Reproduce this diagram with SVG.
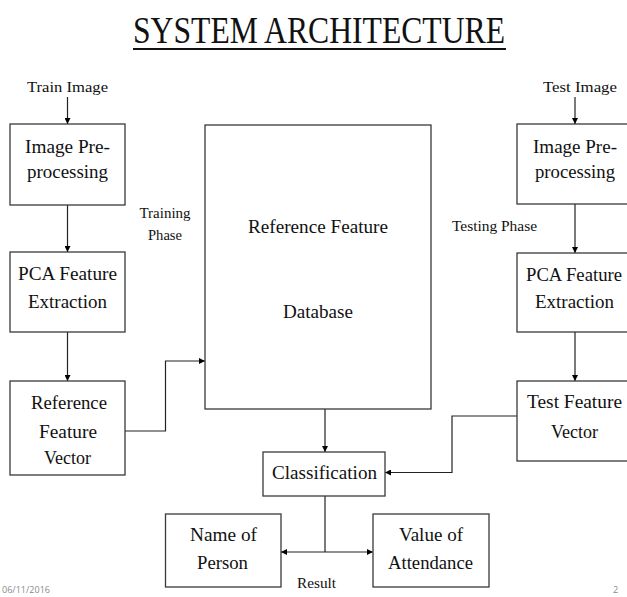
<svg xmlns="http://www.w3.org/2000/svg" width="627" height="597" viewBox="0 0 627 597">
  <defs>
    <marker id="arrow" viewBox="0 0 8 8" refX="8" refY="4" markerWidth="6" markerHeight="6" orient="auto" markerUnits="userSpaceOnUse">
      <path d="M0,0 L8,4 L0,8 z" fill="#000"/>
    </marker>
    <style>
      .box { fill: #fff; stroke: #3a3a3a; stroke-width: 1.3; }
      .t { font-family: "Liberation Serif", "Times New Roman", serif; font-size: 19px; fill: #111; text-anchor: middle; }
      .s { font-family: "Liberation Serif", "Times New Roman", serif; font-size: 15px; fill: #111; text-anchor: middle; }
      .lbl { font-family: "Liberation Serif", "Times New Roman", serif; font-size: 14px; fill: #111; text-anchor: middle; }
      .conn { fill: none; stroke: #222; stroke-width: 1.2; }
      .foot { font-family: "Open Sans", "DejaVu Sans", sans-serif; font-size: 9px; fill: #8a8a8a; }
    </style>
  </defs>

  <rect width="627" height="597" fill="#fff"/>

  <!-- Title -->
  <g id="title">
    <text x="319" y="43" font-family="Liberation Serif, Times New Roman, serif" font-size="37" fill="#111" text-anchor="middle" textLength="372" lengthAdjust="spacingAndGlyphs">SYSTEM  ARCHITECTURE</text>
    <line x1="133" y1="49" x2="506" y2="49" stroke="#111" stroke-width="2"/>
  </g>

  <!-- Connectors -->
  <g id="connectors">
    <line class="conn" x1="67.5" y1="97" x2="67.5" y2="124" marker-end="url(#arrow)"/>
    <line class="conn" x1="67.5" y1="205" x2="67.5" y2="252" marker-end="url(#arrow)"/>
    <line class="conn" x1="67.5" y1="332" x2="67.5" y2="381" marker-end="url(#arrow)"/>
    <polyline class="conn" points="125,431 165.5,431 165.5,361 205,361" marker-end="url(#arrow)"/>

    <line class="conn" x1="575" y1="97" x2="575" y2="124" marker-end="url(#arrow)"/>
    <line class="conn" x1="575" y1="204" x2="575" y2="253" marker-end="url(#arrow)"/>
    <line class="conn" x1="575" y1="332" x2="575" y2="381" marker-end="url(#arrow)"/>
    <polyline class="conn" points="517,416 452,416 452,472.5 385,472.5" marker-end="url(#arrow)"/>

    <line class="conn" x1="325" y1="409" x2="325" y2="452" marker-end="url(#arrow)"/>
    <line class="conn" x1="325" y1="496" x2="325" y2="552"/>
    <line class="conn" x1="325" y1="552" x2="281" y2="552" marker-end="url(#arrow)"/>
    <line class="conn" x1="325" y1="552" x2="373" y2="552" marker-end="url(#arrow)"/>
  </g>

  <!-- Training side -->
  <text class="s" x="67.5" y="92" textLength="81" lengthAdjust="spacingAndGlyphs">Train Image</text>

  <g id="train-preprocessing">
    <rect class="box" x="10" y="124" width="115" height="81"/>
    <text class="t" x="67.5" y="153" textLength="85" lengthAdjust="spacingAndGlyphs">Image Pre-</text>
    <text class="t" x="67.5" y="178" textLength="81" lengthAdjust="spacingAndGlyphs">processing</text>
  </g>

  <g id="train-pca">
    <rect class="box" x="10" y="252" width="115" height="80"/>
    <text class="t" x="67.5" y="280" textLength="99" lengthAdjust="spacingAndGlyphs">PCA Feature</text>
    <text class="t" x="67.5" y="308" textLength="79" lengthAdjust="spacingAndGlyphs">Extraction</text>
  </g>

  <g id="reference-vector">
    <rect class="box" x="10" y="381" width="115" height="94"/>
    <text class="t" x="69" y="409" textLength="76" lengthAdjust="spacingAndGlyphs">Reference</text>
    <text class="t" x="68" y="438" textLength="58" lengthAdjust="spacingAndGlyphs">Feature</text>
    <text class="t" x="67.5" y="464" textLength="47" lengthAdjust="spacingAndGlyphs">Vector</text>
  </g>

  <g id="training-phase">
    <text class="lbl" x="165" y="218" textLength="51" lengthAdjust="spacingAndGlyphs">Training</text>
    <text class="lbl" x="165" y="240" textLength="34" lengthAdjust="spacingAndGlyphs">Phase</text>
  </g>

  <!-- Database -->
  <g id="database">
    <rect class="box" x="205" y="125" width="226" height="284"/>
    <text class="t" x="318" y="233" textLength="140" lengthAdjust="spacingAndGlyphs">Reference Feature</text>
    <text class="t" x="318" y="318" textLength="70" lengthAdjust="spacingAndGlyphs">Database</text>
  </g>

  <!-- Testing side -->
  <text class="s" x="580" y="92" textLength="74" lengthAdjust="spacingAndGlyphs">Test Image</text>

  <g id="testing-phase">
    <text class="lbl" x="494.5" y="231" textLength="85" lengthAdjust="spacingAndGlyphs">Testing Phase</text>
  </g>

  <g id="test-preprocessing">
    <rect class="box" x="517" y="124" width="118" height="80"/>
    <text class="t" x="575" y="153" textLength="84" lengthAdjust="spacingAndGlyphs">Image Pre-</text>
    <text class="t" x="575" y="178" textLength="80" lengthAdjust="spacingAndGlyphs">processing</text>
  </g>

  <g id="test-pca">
    <rect class="box" x="517" y="253" width="118" height="79"/>
    <text class="t" x="574" y="281" textLength="96" lengthAdjust="spacingAndGlyphs">PCA Feature</text>
    <text class="t" x="574.5" y="308" textLength="79" lengthAdjust="spacingAndGlyphs">Extraction</text>
  </g>

  <g id="test-vector">
    <rect class="box" x="517" y="381" width="118" height="80"/>
    <text class="t" x="574.5" y="408" textLength="95" lengthAdjust="spacingAndGlyphs">Test Feature</text>
    <text class="t" x="574.5" y="438" textLength="47" lengthAdjust="spacingAndGlyphs">Vector</text>
  </g>

  <!-- Classification and results -->
  <g id="classification">
    <rect class="box" x="263" y="452" width="122" height="44"/>
    <text class="t" x="324.5" y="479" textLength="105" lengthAdjust="spacingAndGlyphs">Classification</text>
  </g>

  <g id="name-of-person">
    <rect class="box" x="165.5" y="514" width="115.5" height="73"/>
    <text class="t" x="223.5" y="541" textLength="67" lengthAdjust="spacingAndGlyphs">Name of</text>
    <text class="t" x="222.5" y="569" textLength="51" lengthAdjust="spacingAndGlyphs">Person</text>
  </g>

  <g id="value-of-attendance">
    <rect class="box" x="373" y="514" width="116" height="73"/>
    <text class="t" x="431" y="541" textLength="64" lengthAdjust="spacingAndGlyphs">Value of</text>
    <text class="t" x="430.5" y="569" textLength="85" lengthAdjust="spacingAndGlyphs">Attendance</text>
  </g>

  <text class="lbl" x="316.5" y="588" textLength="39" lengthAdjust="spacingAndGlyphs">Result</text>

  <!-- Slide footer -->
  <text class="foot" x="2" y="593" textLength="48" lengthAdjust="spacingAndGlyphs">06/11/2016</text>
  <text class="foot" x="613" y="593">2</text>
</svg>
